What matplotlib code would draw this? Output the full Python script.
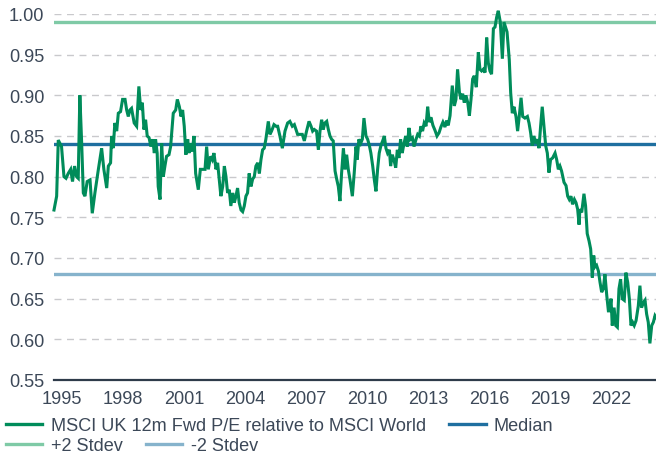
"""UK relative forward P/E vs MSCI World, with median and +/-2 stdev bands"""

import matplotlib
matplotlib.use("Agg")
import matplotlib.pyplot as plt
from matplotlib.lines import Line2D
import numpy as np

# decimal year / relative P/E
years = [
    1994.61, 1994.74, 1994.82, 1994.98, 1995.10, 1995.20, 1995.31, 1995.43, 1995.52, 1995.62,
    1995.72, 1995.80, 1995.88, 1995.97, 1996.05, 1996.13, 1996.24, 1996.38, 1996.49, 1996.62,
    1996.79, 1996.95, 1997.06, 1997.20, 1997.28, 1997.39, 1997.44, 1997.52, 1997.60, 1997.69,
    1997.77, 1997.88, 1997.98,
    1998.10, 1998.18, 1998.26, 1998.34, 1998.42, 1998.55, 1998.67, 1998.78, 1998.87, 1998.95,
    1999.03, 1999.11, 1999.19, 1999.28, 1999.37, 1999.46, 1999.54, 1999.60, 1999.68, 1999.73,
    1999.82, 1999.90, 1999.98, 2000.06, 2000.14, 2000.26, 2000.34, 2000.47, 2000.59, 2000.67,
    2000.77, 2000.85, 2000.93, 2001.01, 2001.09, 2001.18, 2001.24, 2001.32, 2001.40, 2001.49,
    2001.57, 2001.70, 2001.80,
    2002.03, 2002.11, 2002.19, 2002.31, 2002.39, 2002.47, 2002.57, 2002.65, 2002.73, 2002.81,
    2002.90, 2002.98, 2003.06, 2003.14, 2003.22, 2003.30, 2003.39, 2003.47, 2003.55, 2003.63,
    2003.71, 2003.80, 2003.88, 2003.96, 2004.04, 2004.12, 2004.20, 2004.29, 2004.37, 2004.45,
    2004.53, 2004.62, 2004.70, 2004.78, 2004.86, 2004.94, 2005.02, 2005.14, 2005.22, 2005.30,
    2005.42, 2005.52,
    2005.60, 2005.71, 2005.83, 2005.96, 2006.09, 2006.20, 2006.32, 2006.42, 2006.50, 2006.58,
    2006.70, 2006.81, 2006.91, 2007.02, 2007.14, 2007.24, 2007.32, 2007.40, 2007.51, 2007.60,
    2007.68, 2007.76, 2007.84, 2007.92, 2008.01, 2008.09, 2008.17, 2008.25, 2008.33, 2008.42,
    2008.50, 2008.58, 2008.66, 2008.74, 2008.83, 2008.91, 2008.99, 2009.07, 2009.15, 2009.27,
    2009.36, 2009.45, 2009.51, 2009.59, 2009.68, 2009.76, 2009.84, 2009.94, 2010.02, 2010.10,
    2010.18, 2010.27, 2010.35, 2010.43, 2010.51, 2010.59, 2010.68, 2010.76, 2010.84, 2010.92,
    2011.00, 2011.09, 2011.15, 2011.23, 2011.31, 2011.40, 2011.48, 2011.56, 2011.64, 2011.72,
    2011.81, 2011.89, 2011.97, 2012.05, 2012.13, 2012.22, 2012.30, 2012.40, 2012.48, 2012.56,
    2012.64, 2012.72, 2012.80, 2012.89, 2012.97,
    2013.05, 2013.13, 2013.23, 2013.33, 2013.43, 2013.53, 2013.62, 2013.72, 2013.82, 2013.90,
    2013.98, 2014.07, 2014.18, 2014.28, 2014.36, 2014.44, 2014.53, 2014.61, 2014.69, 2014.77,
    2014.85, 2014.94, 2015.02, 2015.10, 2015.18, 2015.26, 2015.36, 2015.46, 2015.54, 2015.62,
    2015.70, 2015.79, 2015.87, 2015.95, 2016.03, 2016.11, 2016.20, 2016.28, 2016.36, 2016.44,
    2016.54, 2016.64, 2016.72, 2016.77, 2016.87,
    2016.98, 2017.05, 2017.13, 2017.21, 2017.31, 2017.39, 2017.47, 2017.56, 2017.64, 2017.75,
    2017.87, 2017.95, 2018.03, 2018.11, 2018.19, 2018.28, 2018.36, 2018.44, 2018.52, 2018.60,
    2018.69, 2018.77, 2018.85, 2018.93, 2019.01, 2019.11, 2019.23, 2019.31, 2019.39, 2019.47,
    2019.55, 2019.67, 2019.77, 2019.85, 2019.93, 2020.01, 2020.09, 2020.18, 2020.26, 2020.34,
    2020.41,
    2020.45, 2020.54, 2020.65, 2020.73, 2020.81, 2020.90, 2020.98, 2021.06, 2021.13, 2021.19,
    2021.27, 2021.36, 2021.44, 2021.52, 2021.60, 2021.68, 2021.77, 2021.85, 2021.91, 2021.98,
    2022.04, 2022.13, 2022.21, 2022.29, 2022.37, 2022.45, 2022.53, 2022.63, 2022.71, 2022.80,
    2022.88, 2022.96, 2023.04, 2023.12, 2023.21, 2023.32, 2023.40, 2023.48, 2023.57, 2023.65,
    2023.73, 2023.81, 2023.89, 2023.98, 2024.06, 2024.14, 2024.19,
]
rel_pe = [
    0.759, 0.776, 0.845, 0.837, 0.800, 0.798, 0.804, 0.809, 0.794, 0.813,
    0.800, 0.798, 0.900, 0.841, 0.780, 0.776, 0.794, 0.796, 0.755, 0.780,
    0.809, 0.835, 0.809, 0.786, 0.813, 0.817, 0.850, 0.835, 0.866, 0.856,
    0.878, 0.880, 0.895,
    0.895, 0.882, 0.874, 0.882, 0.884, 0.866, 0.862, 0.911, 0.882, 0.891,
    0.858, 0.870, 0.850, 0.848, 0.837, 0.846, 0.829, 0.846, 0.829, 0.788,
    0.772, 0.841, 0.800, 0.813, 0.825, 0.827, 0.837, 0.878, 0.882, 0.895,
    0.886, 0.874, 0.882, 0.862, 0.827, 0.846, 0.829, 0.841, 0.831, 0.850,
    0.804, 0.784, 0.809,
    0.809, 0.837, 0.809, 0.825, 0.821, 0.829, 0.809, 0.817, 0.797, 0.776,
    0.788, 0.813, 0.800, 0.780, 0.784, 0.764, 0.780, 0.768, 0.776, 0.786,
    0.768, 0.759, 0.757, 0.764, 0.776, 0.780, 0.804, 0.788, 0.797, 0.800,
    0.813, 0.817, 0.804, 0.821, 0.833, 0.835, 0.846, 0.868, 0.852, 0.856,
    0.864, 0.862,
    0.862, 0.850, 0.835, 0.856, 0.866, 0.868, 0.862, 0.864, 0.858, 0.852,
    0.852, 0.852, 0.844, 0.856, 0.868, 0.862, 0.856, 0.858, 0.856, 0.833,
    0.856, 0.870, 0.858, 0.866, 0.868, 0.858, 0.850, 0.846, 0.844, 0.807,
    0.797, 0.788, 0.770, 0.804, 0.835, 0.809, 0.827, 0.809, 0.797, 0.776,
    0.804, 0.837, 0.821, 0.846, 0.841, 0.846, 0.872, 0.850, 0.846, 0.839,
    0.829, 0.813, 0.796, 0.782, 0.809, 0.829, 0.839, 0.844, 0.850, 0.835,
    0.829, 0.833, 0.813, 0.827, 0.821, 0.811, 0.833, 0.823, 0.846, 0.829,
    0.841, 0.850, 0.837, 0.860, 0.846, 0.848, 0.837, 0.846, 0.852, 0.850,
    0.862, 0.856, 0.866, 0.862, 0.886,
    0.867, 0.873, 0.863, 0.857, 0.850, 0.854, 0.861, 0.867, 0.861, 0.869,
    0.863, 0.875, 0.912, 0.887, 0.895, 0.932, 0.904, 0.895, 0.902, 0.891,
    0.900, 0.891, 0.875, 0.895, 0.920, 0.924, 0.910, 0.953, 0.932, 0.930,
    0.932, 0.928, 0.971, 0.940, 0.930, 0.926, 0.982, 0.984, 0.996, 1.004,
    0.990, 0.945, 0.990, 0.986, 0.978,
    0.944, 0.903, 0.878, 0.886, 0.874, 0.856, 0.874, 0.897, 0.874, 0.872,
    0.874, 0.866, 0.854, 0.838, 0.850, 0.841, 0.846, 0.835, 0.862, 0.886,
    0.860, 0.838, 0.829, 0.805, 0.821, 0.823, 0.829, 0.821, 0.809, 0.813,
    0.807, 0.793, 0.789, 0.776, 0.772, 0.776, 0.766, 0.772, 0.768, 0.760,
    0.741,
    0.760, 0.756, 0.779, 0.764, 0.730, 0.721, 0.711, 0.676, 0.703, 0.689,
    0.691, 0.684, 0.670, 0.658, 0.662, 0.680, 0.654, 0.635, 0.635, 0.650,
    0.617, 0.639, 0.617, 0.615, 0.662, 0.674, 0.650, 0.648, 0.682, 0.670,
    0.650, 0.617, 0.621, 0.617, 0.623, 0.641, 0.666, 0.639, 0.645, 0.648,
    0.631, 0.621, 0.595, 0.617, 0.621, 0.629, 0.627,
]

median = 0.84
plus_2sd = 0.99
minus_2sd = 0.68

x_ticks = [1995, 1998, 2001, 2004, 2007, 2010, 2013, 2016, 2019, 2022]
y_ticks = [0.55, 0.60, 0.65, 0.70, 0.75, 0.80, 0.85, 0.90, 0.95, 1.00]

label_main = "MSCI UK 12m Fwd P/E relative to MSCI World"

C_MAIN = "#008c5a"
C_MED = "#1f6fa0"
C_UP = "#7fcaa6"
C_LO = "#86b3cc"
C_TEXT = "#3c4858"
C_AXIS = "#2e3b4a"

plt.rcParams["font.family"] = ["Liberation Sans", "DejaVu Sans"]
FS = 13.1

fig = plt.figure(figsize=(6.56, 4.56), dpi=100)
ax = fig.add_axes([54/656, 1 - 381/456, 602/656, 366/456])

ax.set_xlim(years[0], years[-1])
ax.set_ylim(0.55, 1.00)

# gridlines (skip the bottom one, axis line sits there)
for v in y_ticks[1:]:
    ax.axhline(v, color="#c9c9cc", lw=1.0, ls=(0, (5, 4)), zorder=1)

ax.axhline(plus_2sd, color=C_UP, lw=2.4, zorder=2)
ax.axhline(minus_2sd, color=C_LO, lw=2.4, zorder=2)
ax.axhline(median, color=C_MED, lw=2.4, zorder=2)
ax.plot(years, rel_pe, color=C_MAIN, lw=2.2, zorder=3, clip_on=False,
        solid_joinstyle="miter")

for s in ["top", "right", "left"]:
    ax.spines[s].set_visible(False)
ax.spines["bottom"].set_color(C_AXIS)
ax.spines["bottom"].set_linewidth(1.6)

ax.set_xticks(x_ticks)
ax.set_xticklabels([str(y) for y in x_ticks])
ax.set_yticks(y_ticks)
ax.set_yticklabels([f"{v:.2f}" for v in y_ticks])
ax.tick_params(axis="both", length=0, labelsize=FS, colors=C_TEXT)
ax.tick_params(axis="y", pad=7)
ax.tick_params(axis="x", pad=7)

# legend rows laid out like the original (flowing, not grid columns)
h_main = Line2D([], [], color=C_MAIN, lw=2.4)
h_med = Line2D([], [], color=C_MED, lw=2.4)
h_up = Line2D([], [], color=C_UP, lw=2.4)
h_lo = Line2D([], [], color=C_LO, lw=2.4)

common = dict(frameon=False, fontsize=FS, handlelength=2.0, handletextpad=0.45,
              columnspacing=1.3, borderaxespad=0, borderpad=0, ncol=2,
              labelcolor=C_TEXT, loc="center left")
leg1 = fig.legend([h_main, h_med], [label_main, "Median"],
                  bbox_to_anchor=(6/656, 1 - 427/456), **common)
leg2 = fig.legend([h_up, h_lo], ["+2 Stdev", "-2 Stdev"],
                  bbox_to_anchor=(6/656, 1 - 447/456), **common)

fig.savefig("out.png", dpi=100)
